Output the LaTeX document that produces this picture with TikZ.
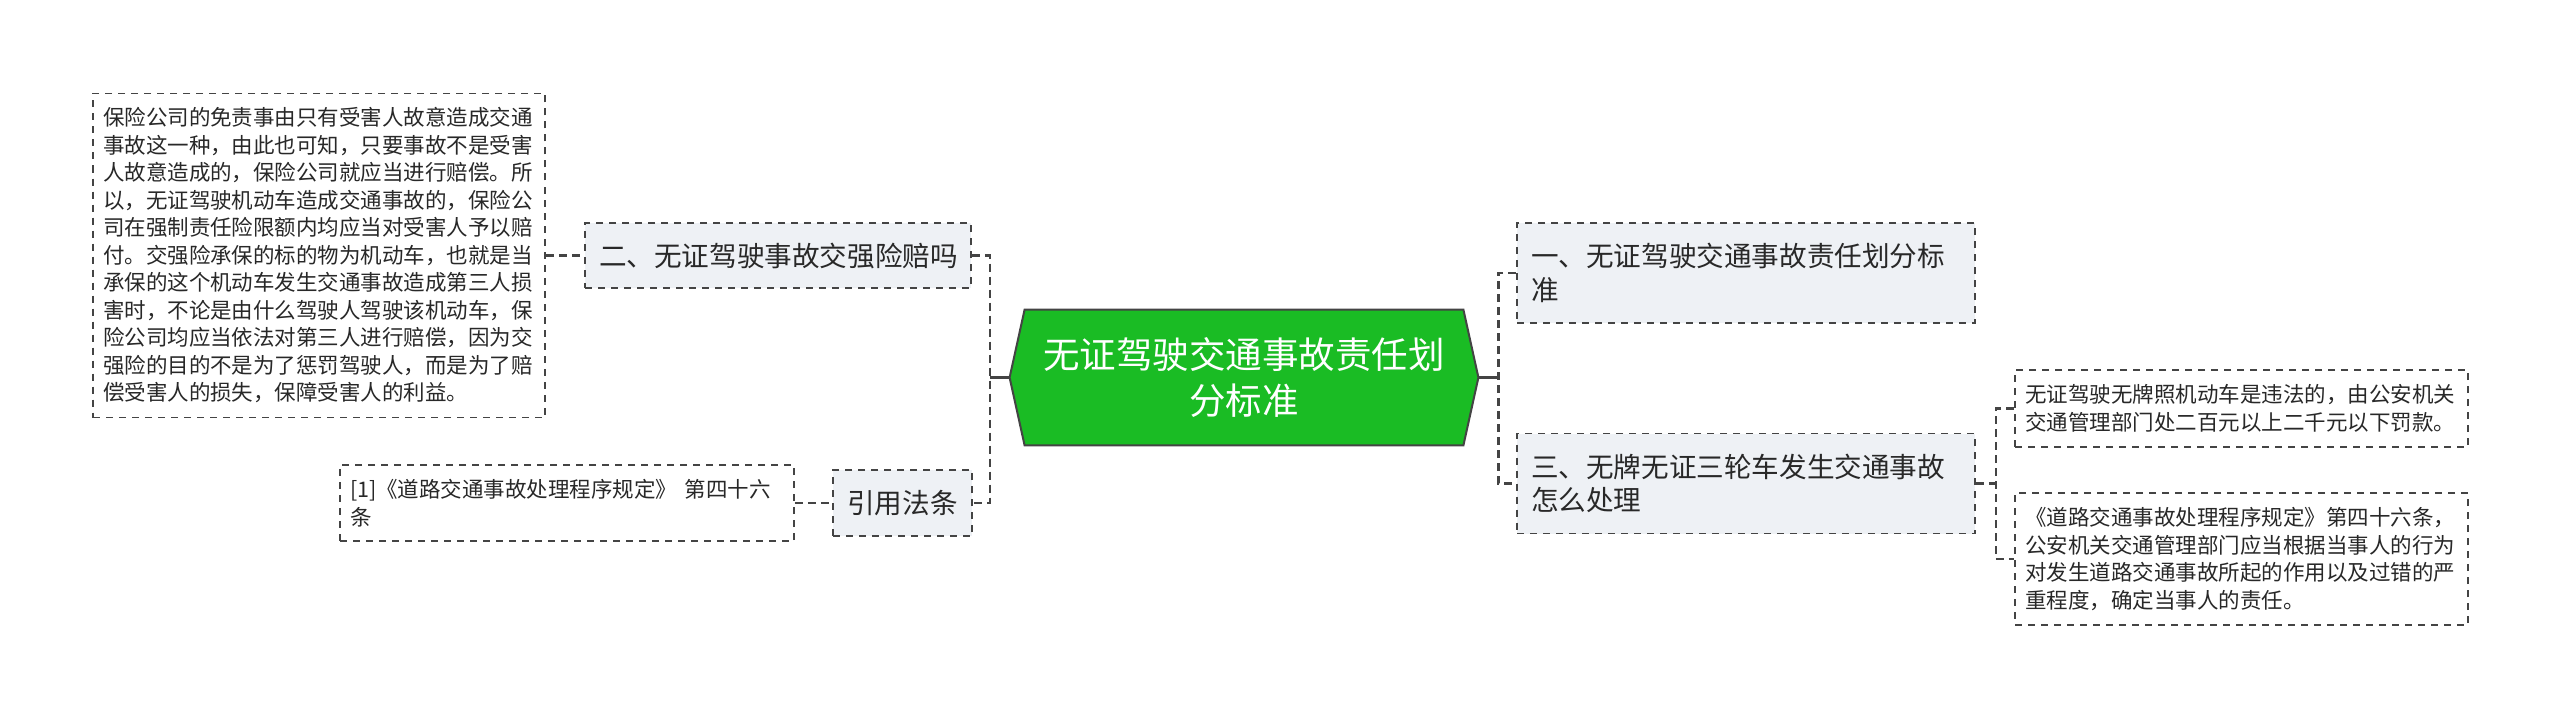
\documentclass[tikz,border=0pt]{standalone}
\usepackage{fontspec}
\setmainfont{Noto Sans CJK SC}
\pgfdeclarelayer{background}
\pgfsetlayers{background,main}
\definecolor{rootgreen}{RGB}{26,188,36}
\definecolor{edgegray}{RGB}{68,68,68}
\definecolor{topicfill}{RGB}{238,241,245}
\definecolor{inkgray}{RGB}{40,40,40}
\begin{document}
\begin{tikzpicture}[x=0.5pt, y=-0.5pt,
    mapbox/.style={draw=edgegray, line width=0.8pt, dash pattern=on 3.5pt off 3pt, text=inkgray, align=left, inner ysep=0pt},
    leafbox/.style={mapbox, fill=white, font=\fontsize{10.75}{13.75}\selectfont, inner xsep=5pt},
    topicbox/.style={mapbox, fill=topicfill, font=\fontsize{13.8}{16.75}\selectfont, inner xsep=7pt},
    linkline/.style={draw=edgegray, line width=1.1pt, dash pattern=on 4pt off 2.5pt},
    trunkline/.style={draw=edgegray, line width=1.1pt}]
    \useasboundingbox (0,0) rectangle (2560,717);
    \node[text=white, align=center, inner sep=0pt, text width=205pt, minimum width=234pt, minimum height=67.5pt,
        font=\fontsize{18.25}{23}\selectfont] (root) at (1244,377.5) {无证驾驶交通事故责任划\\分标准};
    \begin{pgfonlayer}{background}
        \draw[fill=rootgreen, draw=edgegray, line width=1pt] (root.west) -- ([xshift=7.5pt]root.north west)
            -- ([xshift=-7.5pt]root.north east) -- (root.east) -- ([xshift=-7.5pt]root.south east)
            -- ([xshift=7.5pt]root.south west) -- cycle;
    \end{pgfonlayer}
    % left side
    \node[topicbox, text width=179pt, minimum height=32.5pt] (q2) at (778,255.5) {二、无证驾驶事故交强险赔吗};
    \node[leafbox, text width=216pt, minimum height=162pt] (insur) at (319,255.5) {保险公司的免责事由只有受害人故意造成交通\\事故这一种，由此也可知，只要事故不是受害\\人故意造成的，保险公司就应当进行赔偿。所\\以，无证驾驶机动车造成交通事故的，保险公\\司在强制责任险限额内均应当对受害人予以赔\\付。交强险承保的标的物为机动车，也就是当\\承保的这个机动车发生交通事故造成第三人损\\害时，不论是由什么驾驶人驾驶该机动车，保\\险公司均应当依法对第三人进行赔偿，因为交\\强险的目的不是为了惩罚驾驶人，而是为了赔\\偿受害人的损失，保障受害人的利益。};
    \node[topicbox, align=center, text width=55.5pt, minimum height=33pt] (cite) at (902.5,503) {引用法条};
    \node[leafbox, text width=217pt, minimum height=38pt] (refs) at (567,503) {[1]《道路交通事故处理程序规定》 第四十六\\条};
    % right side
    \node[topicbox, text width=215pt, minimum height=50pt] (q1) at (1746,273) {一、无证驾驶交通事故责任划分标\\准};
    \node[topicbox, text width=215pt, minimum height=50pt] (q3) at (1746,483.5) {三、无牌无证三轮车发生交通事故\\怎么处理};
    \node[leafbox, text width=216.5pt, minimum height=38.5pt] (fine) at (2241.5,408.5) {无证驾驶无牌照机动车是违法的，由公安机关\\交通管理部门处二百元以上二千元以下罚款。};
    \node[leafbox, text width=216.5pt, minimum height=66pt] (duty) at (2241.5,559) {《道路交通事故处理程序规定》第四十六条，\\公安机关交通管理部门应当根据当事人的行为\\对发生道路交通事故所起的作用以及过错的严\\重程度，确定当事人的责任。};
    % connectors
    \coordinate (lhub) at ([xshift=-10pt]root.west);
    \coordinate (rhub) at ([xshift=10pt]root.east);
    \coordinate (qhub) at ([xshift=10pt]q3.east);
    \draw[trunkline] (root.west) -- (lhub);
    \draw[linkline] (q2.east) -| (lhub) |- (cite.east);
    \draw[linkline] (insur.east) -- (q2.west);
    \draw[linkline] (refs.east) -- (cite.west);
    \draw[trunkline] (root.east) -- (rhub);
    \draw[linkline] (q1.west) -| (rhub) |- (q3.west);
    \draw[linkline] (q3.east) -- (qhub);
    \draw[linkline] (fine.west) -| (qhub) |- (duty.west);
\end{tikzpicture}
\end{document}
